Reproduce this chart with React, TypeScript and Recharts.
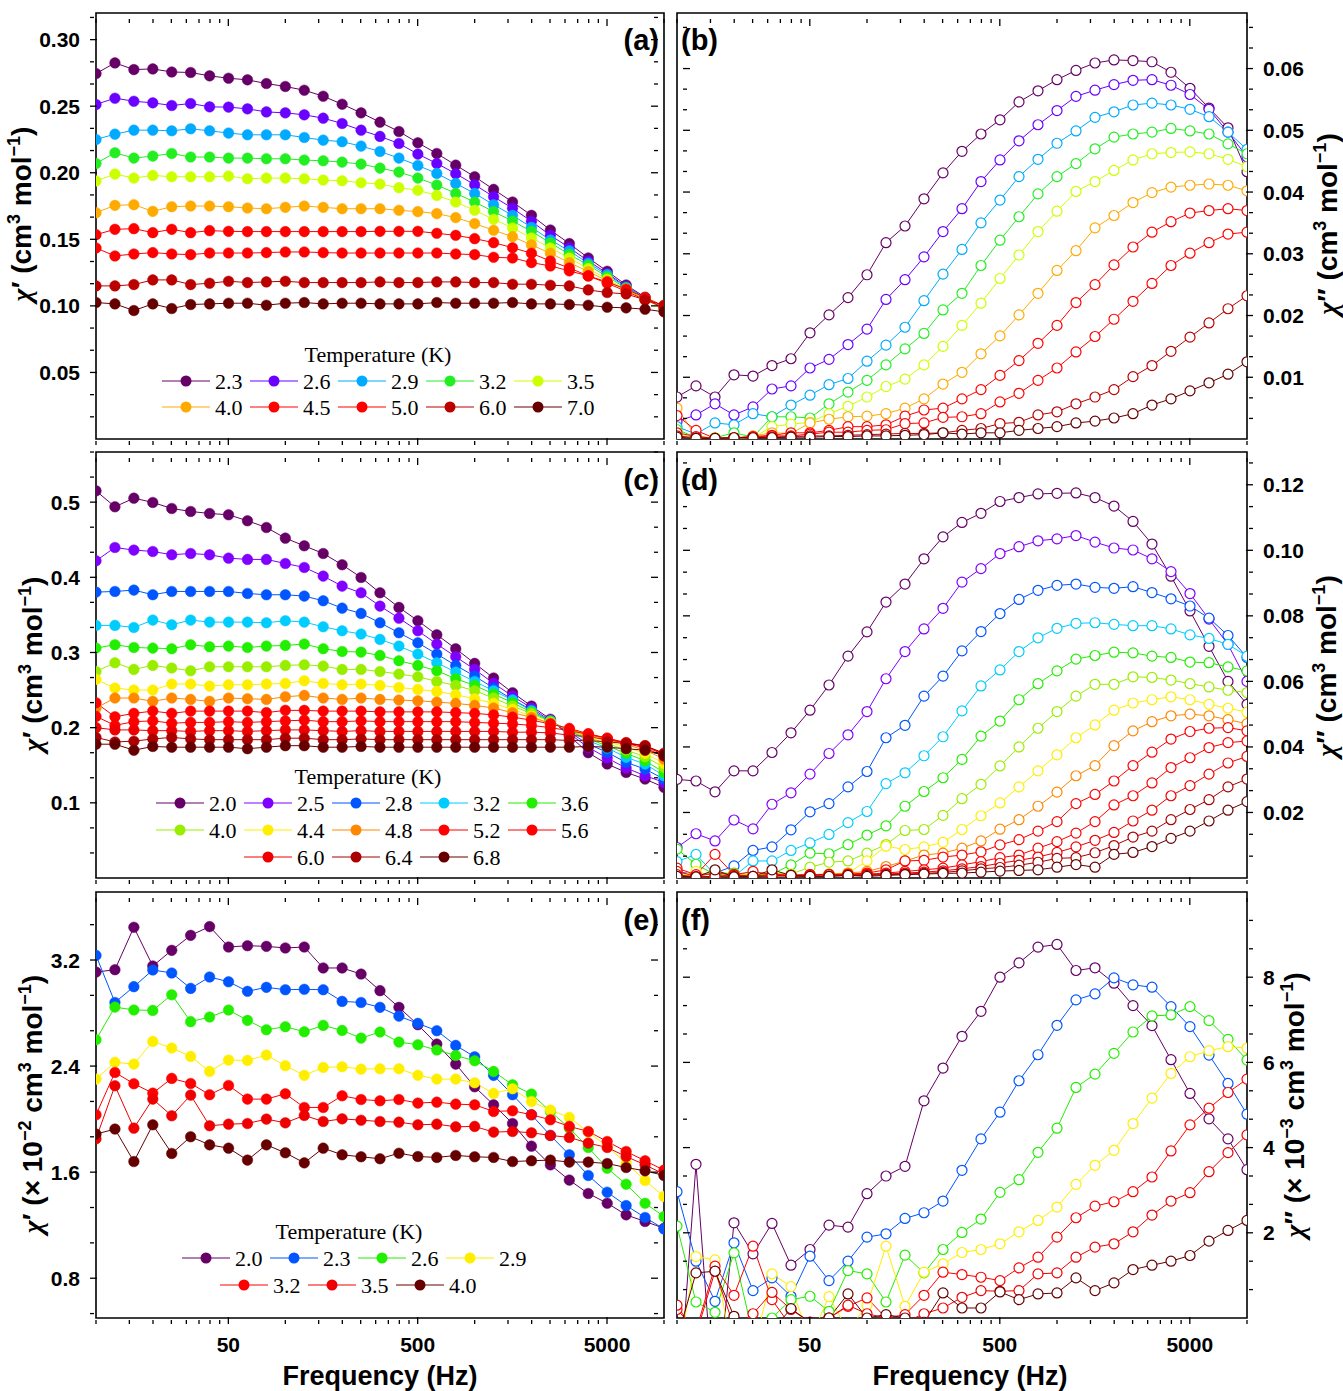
import React from "react";
import { LineChart, Line, XAxis, YAxis, ReferenceArea } from "recharts";

// frequencies (Hz), shared by all six panels
const FREQ = [
  10, 12.59, 15.85, 19.95, 25.12, 31.62, 39.81, 50.12, 63.1, 79.43, 100, 125.9, 158.5, 199.5, 251.2, 316.2,
  398.1, 501.2, 631, 794.3, 1000, 1259, 1585, 1995, 2512, 3162, 3981, 5012, 6310, 7943, 10000,
];
const X_MAJOR = [50, 500, 5000];
const X_MINOR = [10, 15, 20, 25, 30, 35, 40, 45, 100, 150, 200, 250, 300, 350, 400, 450, 1000, 1500, 2000, 2500, 3000, 3500, 4000, 4500, 10000];

// (a) chi' , cm3 mol-1
const TEMPS_A = ["2.3", "2.6", "2.9", "3.2", "3.5", "4.0", "4.5", "5.0", "6.0", "7.0"];
const COLORS_A = ["#660066", "#6a00ff", "#00aaff", "#22ee22", "#ccff00", "#ffaa00", "#ff0000", "#ff0000", "#bb0000", "#660000"];
const A_23 = [0.2745, 0.2825, 0.2775, 0.278, 0.2757, 0.2753, 0.2728, 0.271, 0.2698, 0.267, 0.2648, 0.262, 0.2575, 0.2515, 0.245, 0.238, 0.231, 0.2225, 0.2145, 0.2057, 0.197, 0.1875, 0.178, 0.168, 0.157, 0.1468, 0.136, 0.126, 0.1157, 0.1065, 0.0975];
const A_26 = [0.2513, 0.256, 0.2537, 0.2525, 0.2505, 0.252, 0.2495, 0.2493, 0.248, 0.2457, 0.245, 0.2435, 0.241, 0.237, 0.232, 0.2273, 0.222, 0.214, 0.207, 0.1993, 0.191, 0.182, 0.1733, 0.1635, 0.153, 0.1437, 0.1337, 0.1245, 0.1145, 0.1058, 0.0975];
const A_29 = [0.225, 0.229, 0.232, 0.232, 0.2315, 0.233, 0.2315, 0.2298, 0.2285, 0.2285, 0.2285, 0.2265, 0.2245, 0.2233, 0.22, 0.216, 0.211, 0.2055, 0.1995, 0.192, 0.1845, 0.176, 0.168, 0.159, 0.1495, 0.1413, 0.132, 0.1235, 0.114, 0.1058, 0.0975];
const A_32 = [0.207, 0.215, 0.211, 0.2125, 0.2145, 0.2118, 0.2118, 0.211, 0.211, 0.2105, 0.2105, 0.2095, 0.209, 0.208, 0.2065, 0.2035, 0.2005, 0.196, 0.1908, 0.1845, 0.178, 0.1708, 0.1637, 0.156, 0.1473, 0.1388, 0.1305, 0.122, 0.1133, 0.1052, 0.0975];
const A_35 = [0.1938, 0.199, 0.196, 0.198, 0.197, 0.197, 0.197, 0.1975, 0.1955, 0.196, 0.196, 0.1955, 0.1945, 0.194, 0.1925, 0.1915, 0.1888, 0.1868, 0.183, 0.178, 0.1718, 0.165, 0.1585, 0.151, 0.1435, 0.136, 0.128, 0.12, 0.1125, 0.105, 0.0975];
const A_40 = [0.17, 0.1755, 0.176, 0.171, 0.1745, 0.175, 0.175, 0.1745, 0.1735, 0.173, 0.174, 0.175, 0.174, 0.173, 0.173, 0.173, 0.1718, 0.1708, 0.1693, 0.1663, 0.1618, 0.1568, 0.152, 0.1458, 0.1395, 0.1325, 0.1258, 0.1188, 0.112, 0.105, 0.0985];
const A_45 = [0.1535, 0.1575, 0.158, 0.155, 0.1575, 0.155, 0.1565, 0.156, 0.1558, 0.1558, 0.1558, 0.1558, 0.1558, 0.1558, 0.1558, 0.156, 0.156, 0.156, 0.1545, 0.153, 0.1505, 0.1475, 0.1437, 0.1395, 0.1337, 0.1285, 0.1225, 0.117, 0.111, 0.1045, 0.0988];
const A_50 = [0.1435, 0.1375, 0.139, 0.14, 0.139, 0.1385, 0.1397, 0.1397, 0.1397, 0.14, 0.1405, 0.1405, 0.14, 0.1397, 0.1397, 0.1397, 0.1397, 0.1397, 0.1397, 0.139, 0.1385, 0.1365, 0.136, 0.1325, 0.13, 0.1263, 0.1225, 0.118, 0.1125, 0.1063, 0.1];
const A_60 = [0.115, 0.115, 0.116, 0.1195, 0.1195, 0.116, 0.117, 0.1185, 0.1175, 0.118, 0.1185, 0.1175, 0.1175, 0.1175, 0.1175, 0.118, 0.1175, 0.1175, 0.118, 0.118, 0.1175, 0.1175, 0.1163, 0.1163, 0.1155, 0.115, 0.112, 0.11, 0.109, 0.1045, 0.1005];
const A_70 = [0.1025, 0.1015, 0.0965, 0.1015, 0.098, 0.101, 0.1015, 0.102, 0.102, 0.1005, 0.102, 0.1025, 0.1015, 0.102, 0.102, 0.1015, 0.1015, 0.1015, 0.1025, 0.102, 0.102, 0.102, 0.1025, 0.1015, 0.1015, 0.101, 0.1005, 0.099, 0.0985, 0.0975, 0.0955];

// (b) chi'' , cm3 mol-1
const B_23 = [0.0068, 0.0086, 0.0068, 0.0104, 0.0102, 0.0119, 0.013, 0.0172, 0.0201, 0.0229, 0.0266, 0.0318, 0.0345, 0.0389, 0.0431, 0.0466, 0.0494, 0.0517, 0.0546, 0.0564, 0.0582, 0.0597, 0.0609, 0.0614, 0.0613, 0.0611, 0.0594, 0.0568, 0.0536, 0.0504, 0.0433];
const B_26 = [0.0028, 0.0039, 0.0057, 0.0039, 0.0052, 0.0081, 0.0086, 0.0115, 0.0129, 0.0153, 0.0178, 0.0226, 0.0258, 0.0295, 0.0336, 0.0373, 0.0417, 0.0452, 0.0483, 0.0509, 0.0532, 0.0555, 0.0565, 0.0574, 0.0581, 0.0582, 0.0573, 0.0558, 0.0534, 0.0497, 0.0457];
const B_29 = [0.002, 0.0008, 0.0026, 0.0023, 0.0041, 0.0036, 0.0055, 0.0071, 0.0088, 0.0098, 0.0126, 0.0152, 0.0181, 0.0224, 0.0267, 0.0307, 0.035, 0.0387, 0.0425, 0.0453, 0.0479, 0.0499, 0.0521, 0.053, 0.0541, 0.0544, 0.0541, 0.0534, 0.0522, 0.0497, 0.0469];
const B_32 = [0.0015, 0.0003, 0.0002, 0.001, 0.0003, 0.0036, 0.0036, 0.0034, 0.0057, 0.0076, 0.0095, 0.012, 0.0146, 0.0171, 0.0209, 0.0236, 0.0281, 0.0322, 0.036, 0.0397, 0.0425, 0.0446, 0.047, 0.0489, 0.0494, 0.0497, 0.0503, 0.0499, 0.0494, 0.0478, 0.0462];
const B_35 = [0.001, 0.0001, 0.0002, 0.0001, 0.0002, 0.002, 0.0024, 0.0027, 0.0041, 0.0053, 0.0068, 0.0085, 0.0097, 0.012, 0.015, 0.0184, 0.022, 0.026, 0.0298, 0.0336, 0.0369, 0.0401, 0.0417, 0.0435, 0.0452, 0.0462, 0.0464, 0.0465, 0.0462, 0.0453, 0.0441];
const B_40 = [0.005, 0.0005, 0.0001, 0.0001, 0.0005, 0.001, 0.0009, 0.0026, 0.0032, 0.0036, 0.0037, 0.0041, 0.005, 0.0065, 0.0089, 0.0108, 0.0138, 0.0167, 0.0201, 0.0236, 0.0273, 0.0305, 0.0342, 0.0362, 0.0383, 0.0399, 0.0408, 0.0411, 0.0413, 0.0411, 0.0402];
const B_45 = [0.0038, 0.0014, 0.0001, 0.0002, 0.0004, 0.0006, 0.001, 0.001, 0.0014, 0.002, 0.002, 0.0023, 0.0037, 0.0047, 0.005, 0.0065, 0.008, 0.0103, 0.0127, 0.0155, 0.0184, 0.0221, 0.025, 0.0282, 0.0311, 0.0335, 0.0352, 0.0366, 0.037, 0.0373, 0.037];
const B_50 = [0.001, 0.0004, 0.0001, 0.0002, 0.0003, 0.0005, 0.0005, 0.0008, 0.0011, 0.0011, 0.0014, 0.0015, 0.0025, 0.0026, 0.0035, 0.0036, 0.0041, 0.006, 0.0074, 0.0095, 0.0115, 0.0141, 0.0166, 0.0194, 0.0223, 0.0252, 0.0281, 0.0301, 0.0318, 0.0332, 0.0335];
const B_60 = [0.0005, 0.0002, 0.0001, 0.0002, 0.0002, 0.0003, 0.0004, 0.0005, 0.0005, 0.0006, 0.0007, 0.0008, 0.0009, 0.0009, 0.001, 0.0014, 0.0017, 0.0025, 0.0027, 0.0039, 0.0044, 0.0057, 0.0068, 0.008, 0.0101, 0.0119, 0.0142, 0.0165, 0.0188, 0.0211, 0.0232];
const B_70 = [0.0003, 0.0001, 0.0001, 0.0002, 0.0002, 0.0002, 0.0003, 0.0003, 0.0004, 0.0004, 0.0005, 0.0005, 0.0006, 0.0007, 0.001, 0.0008, 0.001, 0.001, 0.0014, 0.0017, 0.002, 0.0026, 0.0029, 0.0034, 0.0041, 0.0055, 0.0065, 0.0078, 0.0091, 0.0105, 0.0125];

// (c) chi' , cm3 mol-1
const TEMPS_C = ["2.0", "2.5", "2.8", "3.2", "3.6", "4.0", "4.4", "4.8", "5.2", "5.6", "6.0", "6.4", "6.8"];
const COLORS_C = ["#660066", "#8000ff", "#0055ff", "#00ccff", "#22ee00", "#99ee00", "#ffee00", "#ff8800", "#ff0000", "#ff0000", "#ee0000", "#aa0000", "#660000"];
const C_20 = [0.515, 0.4938, 0.5053, 0.4996, 0.4916, 0.4876, 0.4849, 0.4832, 0.4752, 0.4663, 0.4521, 0.4419, 0.4317, 0.4167, 0.3998, 0.3794, 0.36, 0.3422, 0.3236, 0.305, 0.2855, 0.266, 0.2465, 0.2287, 0.2112, 0.189, 0.1667, 0.1516, 0.1405, 0.1316, 0.1206];
const C_25 = [0.422, 0.4397, 0.4362, 0.4344, 0.43, 0.4317, 0.43, 0.4255, 0.4238, 0.4238, 0.4184, 0.4131, 0.4016, 0.3883, 0.3794, 0.3617, 0.3457, 0.3289, 0.3112, 0.2943, 0.2775, 0.2589, 0.242, 0.2261, 0.2092, 0.192, 0.1738, 0.1596, 0.1463, 0.1361, 0.1272];
const C_28 = [0.3803, 0.3812, 0.383, 0.3768, 0.3812, 0.3812, 0.3812, 0.3812, 0.3785, 0.3768, 0.3768, 0.375, 0.3688, 0.359, 0.352, 0.3395, 0.3262, 0.3129, 0.2979, 0.2828, 0.2686, 0.2527, 0.2376, 0.2234, 0.2083, 0.194, 0.1782, 0.1671, 0.1538, 0.1449, 0.1316];
const C_32 = [0.336, 0.336, 0.3333, 0.3431, 0.3369, 0.3431, 0.3404, 0.3404, 0.3404, 0.3395, 0.3422, 0.3404, 0.3342, 0.3289, 0.3245, 0.3174, 0.3085, 0.2979, 0.2863, 0.2739, 0.2615, 0.2491, 0.2367, 0.2225, 0.2092, 0.1959, 0.1826, 0.1729, 0.1605, 0.1516, 0.1361];
const C_36 = [0.3058, 0.3103, 0.3067, 0.3058, 0.305, 0.3103, 0.3076, 0.3085, 0.3067, 0.3085, 0.3094, 0.3112, 0.305, 0.3014, 0.3005, 0.2961, 0.289, 0.2828, 0.2757, 0.2651, 0.2562, 0.2447, 0.2332, 0.2207, 0.2083, 0.1959, 0.1848, 0.176, 0.1658, 0.156, 0.1405];
const C_40 = [0.2748, 0.2863, 0.2775, 0.2828, 0.2793, 0.2757, 0.281, 0.281, 0.281, 0.281, 0.2828, 0.2837, 0.2819, 0.2775, 0.2775, 0.2748, 0.2713, 0.2677, 0.2615, 0.2562, 0.2491, 0.2394, 0.2287, 0.219, 0.2074, 0.1968, 0.187, 0.179, 0.1702, 0.1613, 0.1472];
const C_44 = [0.2642, 0.2527, 0.25, 0.25, 0.258, 0.258, 0.2553, 0.2571, 0.2571, 0.258, 0.2589, 0.2624, 0.2589, 0.2571, 0.258, 0.2562, 0.2535, 0.2509, 0.2482, 0.2438, 0.2385, 0.2323, 0.2243, 0.2154, 0.2057, 0.1977, 0.1888, 0.1817, 0.1738, 0.1658, 0.1525];
const C_48 = [0.2261, 0.2394, 0.2394, 0.235, 0.2394, 0.2376, 0.235, 0.2394, 0.2385, 0.2376, 0.2411, 0.2429, 0.2394, 0.2376, 0.2394, 0.2376, 0.2367, 0.2358, 0.234, 0.2323, 0.2296, 0.2261, 0.2199, 0.2137, 0.2057, 0.1977, 0.1906, 0.1844, 0.1773, 0.1702, 0.1582];
const C_52 = [0.233, 0.2145, 0.219, 0.222, 0.219, 0.222, 0.222, 0.222, 0.222, 0.22, 0.223, 0.223, 0.222, 0.222, 0.222, 0.221, 0.221, 0.221, 0.221, 0.22, 0.219, 0.217, 0.214, 0.21, 0.205, 0.199, 0.192, 0.186, 0.179, 0.173, 0.162];
const C_56 = [0.215, 0.203, 0.208, 0.209, 0.206, 0.207, 0.207, 0.208, 0.207, 0.208, 0.209, 0.21, 0.208, 0.208, 0.209, 0.208, 0.208, 0.208, 0.208, 0.208, 0.207, 0.206, 0.205, 0.203, 0.2, 0.196, 0.191, 0.186, 0.18, 0.175, 0.164];
const C_60 = [0.2, 0.197, 0.197, 0.196, 0.196, 0.195, 0.196, 0.196, 0.195, 0.196, 0.197, 0.197, 0.196, 0.195, 0.196, 0.195, 0.195, 0.195, 0.195, 0.195, 0.195, 0.195, 0.194, 0.194, 0.193, 0.19, 0.188, 0.184, 0.18, 0.176, 0.165];
const C_64 = [0.187, 0.181, 0.182, 0.185, 0.187, 0.185, 0.184, 0.184, 0.184, 0.184, 0.186, 0.186, 0.184, 0.184, 0.185, 0.184, 0.184, 0.184, 0.184, 0.184, 0.184, 0.184, 0.184, 0.184, 0.184, 0.183, 0.183, 0.181, 0.179, 0.176, 0.166];
const C_68 = [0.178, 0.178, 0.17, 0.175, 0.174, 0.174, 0.174, 0.174, 0.172, 0.174, 0.176, 0.176, 0.174, 0.174, 0.175, 0.174, 0.174, 0.174, 0.174, 0.174, 0.174, 0.174, 0.174, 0.174, 0.174, 0.174, 0.175, 0.174, 0.172, 0.17, 0.163];

// (d) chi'' , cm3 mol-1
const D_20 = [0.0301, 0.0296, 0.0263, 0.0327, 0.0327, 0.0383, 0.0443, 0.0512, 0.0589, 0.0677, 0.0751, 0.0842, 0.0897, 0.0974, 0.1041, 0.1085, 0.1113, 0.1149, 0.1161, 0.1172, 0.1174, 0.1175, 0.1161, 0.1135, 0.1088, 0.1019, 0.0921, 0.0815, 0.0707, 0.06, 0.053];
const D_25 = [0.0093, 0.0135, 0.0113, 0.0177, 0.015, 0.0225, 0.026, 0.0317, 0.038, 0.0437, 0.0508, 0.0608, 0.0691, 0.076, 0.0823, 0.0903, 0.0944, 0.099, 0.1011, 0.1029, 0.1035, 0.1045, 0.1025, 0.1007, 0.1001, 0.0974, 0.0935, 0.0868, 0.079, 0.0713, 0.06];
const D_28 = [0.002, 0.001, 0.0015, 0.0037, 0.0084, 0.0095, 0.0147, 0.0202, 0.0227, 0.0278, 0.0325, 0.0428, 0.0466, 0.0555, 0.0616, 0.0693, 0.0752, 0.0807, 0.085, 0.0878, 0.0893, 0.0897, 0.0887, 0.0884, 0.0889, 0.0871, 0.0852, 0.083, 0.0793, 0.074, 0.0673];
const D_32 = [0.005, 0.0072, 0.001, 0.0005, 0.0052, 0.0052, 0.0084, 0.0107, 0.0133, 0.0169, 0.0203, 0.0288, 0.0321, 0.0373, 0.0431, 0.051, 0.0586, 0.0635, 0.0691, 0.0733, 0.0762, 0.0777, 0.0779, 0.0774, 0.077, 0.077, 0.076, 0.0742, 0.0731, 0.0713, 0.0677];
const D_36 = [0.0088, 0.0042, 0.001, 0.0015, 0.001, 0.0012, 0.004, 0.0076, 0.0074, 0.0102, 0.0131, 0.0159, 0.0219, 0.0264, 0.0306, 0.0362, 0.0433, 0.0479, 0.0544, 0.0593, 0.0632, 0.0668, 0.0679, 0.0689, 0.0687, 0.0677, 0.0673, 0.0659, 0.0657, 0.0644, 0.0632];
const D_40 = [0.001, 0.0005, 0.002, 0.0012, 0.001, 0.0015, 0.0012, 0.0033, 0.0048, 0.0052, 0.0076, 0.0102, 0.0145, 0.0148, 0.0191, 0.0242, 0.0286, 0.0342, 0.04, 0.0457, 0.0508, 0.0555, 0.0591, 0.0591, 0.0614, 0.0612, 0.0604, 0.0593, 0.0583, 0.0573, 0.0566];
const D_44 = [0.0005, 0.002, 0.0005, 0.001, 0.0005, 0.001, 0.0008, 0.001, 0.0012, 0.0015, 0.0052, 0.0097, 0.0087, 0.0095, 0.0109, 0.0148, 0.019, 0.0229, 0.0278, 0.0327, 0.0376, 0.0428, 0.0467, 0.0512, 0.0534, 0.0544, 0.0553, 0.0544, 0.053, 0.0518, 0.0506];
const D_48 = [0.001, 0.0003, 0.0005, 0.001, 0.0005, 0.0008, 0.0008, 0.001, 0.0012, 0.0015, 0.002, 0.0035, 0.0052, 0.007, 0.0076, 0.0091, 0.0113, 0.0149, 0.0178, 0.0219, 0.0262, 0.0312, 0.0343, 0.0404, 0.0449, 0.0477, 0.0495, 0.05, 0.0495, 0.0483, 0.0471];
const D_52 = [0.003, 0.001, 0.0072, 0.001, 0.002, 0.001, 0.0008, 0.001, 0.001, 0.0012, 0.0015, 0.0025, 0.0052, 0.0054, 0.0064, 0.007, 0.008, 0.0101, 0.0117, 0.0143, 0.0172, 0.0227, 0.0255, 0.0296, 0.0343, 0.0384, 0.0424, 0.0447, 0.0457, 0.0459, 0.0449];
const D_56 = [0.002, 0.0005, 0.0015, 0.001, 0.0005, 0.0012, 0.0008, 0.001, 0.001, 0.001, 0.0012, 0.0015, 0.002, 0.0025, 0.003, 0.004, 0.005, 0.0062, 0.007, 0.0091, 0.0111, 0.0137, 0.0172, 0.0223, 0.0251, 0.029, 0.0337, 0.0367, 0.0398, 0.0413, 0.0418];
const D_60 = [0.001, 0.0003, 0.0005, 0.0008, 0.0005, 0.0005, 0.0008, 0.0008, 0.001, 0.001, 0.001, 0.0012, 0.0015, 0.0018, 0.0022, 0.0028, 0.0035, 0.0045, 0.0054, 0.0064, 0.0078, 0.0095, 0.0115, 0.0139, 0.0174, 0.0207, 0.0251, 0.0282, 0.0317, 0.0351, 0.0371];
const D_64 = [0.0005, 0.0003, 0.0005, 0.0005, 0.0003, 0.0008, 0.0005, 0.0005, 0.0006, 0.0008, 0.0008, 0.001, 0.0012, 0.0014, 0.0017, 0.0022, 0.0028, 0.0032, 0.0039, 0.0048, 0.006, 0.0062, 0.0077, 0.0099, 0.0125, 0.0143, 0.0178, 0.0209, 0.0239, 0.0278, 0.0302];
const D_68 = [0.0005, 0.0003, 0.0025, 0.0003, 0.0005, 0.0025, 0.0008, 0.0005, 0.0005, 0.0008, 0.0005, 0.0008, 0.001, 0.0012, 0.0014, 0.0015, 0.0018, 0.0021, 0.0023, 0.0025, 0.0033, 0.0041, 0.0033, 0.0072, 0.0078, 0.0096, 0.0121, 0.0143, 0.0174, 0.0207, 0.0233];

// (e) chi' , x 10^-2 cm3 mol-1
const TEMPS_E = ["2.0", "2.3", "2.6", "2.9", "3.2", "3.5", "4.0"];
const COLORS_E = ["#660066", "#0055ff", "#22ee00", "#ffee00", "#ff0000", "#ee0000", "#660000"];
const E_20 = [3.109, 3.127, 3.447, 3.155, 3.273, 3.386, 3.452, 3.298, 3.308, 3.303, 3.291, 3.298, 3.14, 3.14, 3.094, 2.969, 2.843, 2.712, 2.566, 2.415, 2.244, 2.108, 1.967, 1.796, 1.655, 1.54, 1.439, 1.366, 1.278, 1.228, 1.177];
const E_23 = [3.235, 2.88, 2.999, 3.125, 3.102, 2.986, 3.072, 3.036, 2.964, 2.994, 2.976, 2.979, 2.976, 2.888, 2.88, 2.843, 2.777, 2.722, 2.667, 2.556, 2.47, 2.33, 2.184, 2.033, 1.877, 1.731, 1.575, 1.449, 1.348, 1.258, 1.172];
const E_26 = [2.599, 2.845, 2.823, 2.82, 2.938, 2.735, 2.77, 2.823, 2.745, 2.674, 2.697, 2.659, 2.707, 2.669, 2.611, 2.657, 2.581, 2.561, 2.521, 2.48, 2.44, 2.36, 2.259, 2.189, 2.058, 1.932, 1.786, 1.63, 1.509, 1.366, 1.265];
const E_29 = [2.302, 2.428, 2.415, 2.586, 2.536, 2.473, 2.36, 2.445, 2.443, 2.483, 2.403, 2.33, 2.39, 2.395, 2.377, 2.38, 2.38, 2.33, 2.302, 2.302, 2.274, 2.194, 2.229, 2.133, 2.068, 2.013, 1.902, 1.794, 1.668, 1.537, 1.416];
const E_32 = [2.033, 2.352, 2.267, 2.196, 2.307, 2.269, 2.184, 2.254, 2.151, 2.151, 2.191, 2.088, 2.088, 2.176, 2.148, 2.138, 2.148, 2.121, 2.128, 2.113, 2.108, 2.058, 2.063, 2.033, 1.995, 1.945, 1.907, 1.831, 1.756, 1.686, 1.615];
const E_35 = [1.852, 2.252, 1.932, 2.151, 2.025, 2.181, 1.95, 1.962, 1.967, 2.0, 1.972, 2.028, 1.982, 2.002, 1.992, 1.982, 1.977, 1.957, 1.962, 1.942, 1.945, 1.902, 1.907, 1.897, 1.877, 1.862, 1.819, 1.786, 1.718, 1.655, 1.585];
const E_40 = [1.887, 1.925, 1.68, 1.957, 1.741, 1.867, 1.806, 1.781, 1.691, 1.806, 1.746, 1.67, 1.781, 1.731, 1.716, 1.701, 1.743, 1.718, 1.711, 1.726, 1.716, 1.711, 1.68, 1.686, 1.691, 1.676, 1.676, 1.665, 1.635, 1.61, 1.575];

// (f) chi'' , x 10^-3 cm3 mol-1
const F_20 = [-2.4, 3.608, -2.3, 2.235, 1.506, 2.22, 1.239, 1.608, 2.18, 2.133, 2.918, 3.333, 3.561, 5.098, 5.867, 6.612, 7.2, 8.0, 8.337, 8.706, 8.769, 8.157, 8.22, 7.859, 7.333, 6.863, 6.063, 5.271, 4.675, 4.204, 3.482];
const F_23 = [2.965, 1.333, 0.392, 1.765, 0.643, 0.941, 0.51, 1.451, 0.878, 1.333, 1.898, 1.976, 2.337, 2.471, 2.745, 3.467, 4.204, 4.831, 5.569, 6.18, 6.871, 7.467, 7.608, 7.984, 7.82, 7.765, 7.31, 6.839, 6.173, 5.506, 4.784];
const F_26 = [2.157, 0.376, 0.133, 1.529, -0.4, 0.0, 0.431, 0.51, 0.157, 1.114, 1.035, 0.376, 1.475, 1.059, 1.608, 2.008, 2.322, 2.949, 3.247, 3.89, 4.455, 5.412, 5.725, 6.212, 6.714, 7.09, 7.114, 7.31, 6.98, 6.541, 6.055];
const F_29 = [-1.0, 1.443, 1.365, -1.0, -0.8, 1.035, 0.737, -0.5, 0.502, -0.3, 0.3, 1.686, 0.275, 1.075, 1.271, 1.537, 1.608, 1.741, 2.024, 2.29, 2.604, 3.137, 3.584, 3.937, 4.565, 5.161, 5.741, 6.133, 6.275, 6.369, 6.337];
const F_32 = [0.2, -0.3, 1.216, 0.533, 1.686, 0.431, -0.2, -0.1, 0.0, 0.275, 0.471, 0.0, 0.08, 0.533, 1.075, 1.02, 0.957, 0.878, 1.176, 1.427, 1.898, 2.353, 2.627, 2.729, 2.965, 3.31, 3.922, 4.533, 4.925, 5.294, 5.608];
const F_35 = [0.3, -0.4, 1.1, -0.2, 0.1, 0.6, 0.2, -0.1, 0.0, 0.3, 0.1, 0.0, -0.1, 0.1, 0.235, 0.486, 0.643, 0.627, 0.643, 1.035, 1.059, 1.427, 1.663, 1.741, 2.024, 2.416, 2.745, 2.941, 3.435, 3.882, 4.298];
const F_40 = [-0.5, 1.059, 1.098, 0.04, -0.4, -0.3, 0.22, -0.1, 0.0, 0.565, 0.0, 0.08, 0.0, -0.1, 0.588, 0.235, 0.235, 0.612, 0.431, 0.565, 0.588, 0.941, 0.643, 0.824, 1.137, 1.239, 1.333, 1.467, 1.804, 2.055, 2.29];

// y tick labels per panel
const A_TICKS = [0.05, 0.1, 0.15, 0.2, 0.25, 0.3];
const B_TICKS = [0.01, 0.02, 0.03, 0.04, 0.05, 0.06];
const C_TICKS = [0.1, 0.2, 0.3, 0.4, 0.5];
const D_TICKS = [0.02, 0.04, 0.06, 0.08, 0.1, 0.12];
const E_TICKS = [0.8, 1.6, 2.4, 3.2];
const F_TICKS = [2, 4, 6, 8];

const SANS = '"Liberation Sans", Arial, Helvetica, sans-serif';
const SERIF = '"Liberation Serif", "Times New Roman", serif';

type Series = { name: string; color: string; values: number[] };
type Rect = { x: number; y: number; w: number; h: number };

const mk = (names: string[], colors: string[], vals: number[][]): Series[] =>
  names.map((n, i) => ({ name: n, color: colors[i], values: vals[i] }));

const SER_A = mk(TEMPS_A, COLORS_A, [A_23, A_26, A_29, A_32, A_35, A_40, A_45, A_50, A_60, A_70]);
const SER_B = mk(TEMPS_A, COLORS_A, [B_23, B_26, B_29, B_32, B_35, B_40, B_45, B_50, B_60, B_70]);
const SER_C = mk(TEMPS_C, COLORS_C, [C_20, C_25, C_28, C_32, C_36, C_40, C_44, C_48, C_52, C_56, C_60, C_64, C_68]);
const SER_D = mk(TEMPS_C, COLORS_C, [D_20, D_25, D_28, D_32, D_36, D_40, D_44, D_48, D_52, D_56, D_60, D_64, D_68]);
const SER_E = mk(TEMPS_E, COLORS_E, [E_20, E_23, E_26, E_29, E_32, E_35, E_40]);
const SER_F = mk(TEMPS_E, COLORS_E, [F_20, F_23, F_26, F_29, F_32, F_35, F_40]);

const X_TICKS = [...X_MAJOR, ...X_MINOR].sort((a, b) => a - b);

function minorTicks(majors: number[], lo: number, hi: number) {
  const sub = (majors[1] - majors[0]) / 3;
  const out: number[] = [];
  for (let k = Math.ceil(lo / sub + 1e-6); k * sub < hi - 1e-9; k++) {
    if (k % 3 !== 0) out.push(k * sub);
  }
  return out;
}

const isMajor = (list: number[], v: number) => list.some((m) => Math.abs(m - v) < 1e-9);

function xTick(plotH: number, labels: boolean) {
  return (p: any) => {
    const v = p.payload.value;
    const major = isMajor(X_MAJOR, v);
    const len = major ? 7 : 4;
    return (
      <g>
        <line x1={p.x} x2={p.x} y1={p.y} y2={p.y - len} stroke="#000" strokeWidth={1.3} />
        <line x1={p.x} x2={p.x} y1={p.y - plotH} y2={p.y - plotH + len} stroke="#000" strokeWidth={1.3} />
        {labels && major ? (
          <text x={p.x} y={p.y + 28} textAnchor="middle" fontFamily={SANS} fontWeight="bold" fontSize={21} fill="#000">
            {v}
          </text>
        ) : null}
      </g>
    );
  };
}

function yTick(plotW: number, side: "left" | "right", majors: number[], dec: number) {
  const dir = side === "left" ? 1 : -1;
  return (p: any) => {
    const v = p.payload.value;
    const major = isMajor(majors, v);
    const len = major ? 7 : 4;
    const xo = p.x + dir * plotW;
    return (
      <g>
        <line x1={p.x} x2={p.x + dir * len} y1={p.y} y2={p.y} stroke="#000" strokeWidth={1.3} />
        <line x1={xo} x2={xo - dir * len} y1={p.y} y2={p.y} stroke="#000" strokeWidth={1.3} />
        {major ? (
          <text
            x={p.x - dir * 10}
            y={p.y}
            dy="0.36em"
            textAnchor={side === "left" ? "end" : "start"}
            fontFamily={SANS}
            fontWeight="bold"
            fontSize={21}
            fill="#000"
          >
            {v.toFixed(dec)}
          </text>
        ) : null}
      </g>
    );
  };
}

type PanelProps = {
  rect: Rect;
  yDomain: [number, number];
  yMajors: number[];
  dec: number;
  side: "left" | "right";
  xLabels: boolean;
  series: Series[];
  hollow: boolean;
};

function Panel({ rect, yDomain, yMajors, dec, side, xLabels, series, hollow }: PanelProps) {
  const PL = 70;
  const PR = 70;
  const PT = 12;
  const PB = 40;
  const data = FREQ.map((f, i) => {
    const row: Record<string, number> = { f };
    series.forEach((s, k) => {
      row["s" + k] = s.values[i];
    });
    return row;
  });
  const yTicks = [...yMajors, ...minorTicks(yMajors, yDomain[0], yDomain[1])].sort((a, b) => a - b);
  return (
    <div style={{ position: "absolute", left: rect.x - PL, top: rect.y - PT }}>
      <LineChart
        width={rect.w + PL + PR}
        height={rect.h + PT + PB}
        data={data}
        margin={{ top: PT, bottom: 0, left: side === "left" ? 0 : PL, right: side === "right" ? 0 : PR }}
      >
        <XAxis
          dataKey="f"
          type="number"
          scale="log"
          domain={[10, 10000]}
          ticks={X_TICKS}
          interval={0}
          allowDataOverflow
          height={PB}
          axisLine={false}
          tickLine={false}
          tickMargin={0}
          tick={xTick(rect.h, xLabels)}
        />
        <YAxis
          type="number"
          domain={yDomain}
          ticks={yTicks}
          interval={0}
          allowDataOverflow
          orientation={side}
          width={side === "left" ? PL : PR}
          axisLine={false}
          tickLine={false}
          tickMargin={0}
          tick={yTick(rect.w, side, yMajors, dec)}
        />
        {series.map((s, k) => (
          <Line
            key={s.name + k}
            dataKey={"s" + k}
            type="linear"
            stroke={s.color}
            strokeWidth={1}
            isAnimationActive={false}
            activeDot={false}
            dot={
              hollow
                ? { r: 5, fill: "#ffffff", stroke: s.color, strokeWidth: 1.2 }
                : { r: 5.3, fill: s.color, stroke: s.color, strokeWidth: 0.5 }
            }
          />
        ))}
        <ReferenceArea
          x1={10}
          x2={10000}
          y1={yDomain[0]}
          y2={yDomain[1]}
          fill="none"
          stroke="#000"
          strokeWidth={1.6}
          ifOverflow="visible"
        />
      </LineChart>
    </div>
  );
}

type LegendRow = { y: number; x0: number; from: number; to: number };

function LegendBlock({ tx, ty, rows, series }: { tx: number; ty: number; rows: LegendRow[]; series: Series[] }) {
  return (
    <g>
      <text x={tx} y={ty + 7} textAnchor="middle" fontFamily={SERIF} fontSize={22} fill="#000">
        Temperature (K)
      </text>
      {rows.map((r, ri) =>
        series.slice(r.from, r.to).map((s, k) => {
          const cx = r.x0 + k * 88;
          return (
            <g key={ri + "-" + k}>
              <line x1={cx - 24} x2={cx + 24} y1={r.y} y2={r.y} stroke={s.color} strokeWidth={1} />
              <circle cx={cx} cy={r.y} r={5.5} fill={s.color} />
              <text x={cx + 29} y={r.y + 7.5} fontFamily={SERIF} fontSize={22} fill="#000">
                {s.name}
              </text>
            </g>
          );
        })
      )}
    </g>
  );
}

// rotated axis title; (bx, cy) = baseline x and vertical centre
function YTitle({ bx, cy, prime, exp }: { bx: number; cy: number; prime: string; exp?: string }) {
  const sup = (t: string) => (
    <tspan dy={-11} fontSize={18}>
      {t}
    </tspan>
  );
  return (
    <text
      transform={`translate(${bx},${cy}) rotate(-90)`}
      textAnchor="middle"
      fontFamily={SANS}
      fontWeight="bold"
      fontSize={28}
      fill="#000"
    >
      <tspan fontFamily={SERIF} fontStyle="italic">
        χ
      </tspan>
      <tspan>{prime + " ("}</tspan>
      {exp ? (
        <>
          <tspan>× 10</tspan>
          {sup(exp)}
          <tspan dy={11}> cm</tspan>
        </>
      ) : (
        <tspan>cm</tspan>
      )}
      {sup("3")}
      <tspan dy={11}> mol</tspan>
      {sup("−1")}
      <tspan dy={11}>)</tspan>
    </text>
  );
}

const RA: Rect = { x: 96, y: 13, w: 568, h: 426 };
const RB: Rect = { x: 677, y: 13, w: 570, h: 426 };
const RC: Rect = { x: 96, y: 452, w: 568, h: 426 };
const RD: Rect = { x: 677, y: 452, w: 570, h: 426 };
const RE: Rect = { x: 96, y: 892, w: 568, h: 426 };
const RF: Rect = { x: 677, y: 892, w: 570, h: 426 };

export default function App() {
  const panelLabel = (x: number, y: number, t: string, anchor: "start" | "end") => (
    <text x={x} y={y} textAnchor={anchor} fontFamily={SANS} fontWeight="bold" fontSize={29} fill="#000">
      {t}
    </text>
  );
  return (
    <div style={{ position: "absolute", left: 0, top: 0, width: 1343, height: 1391, background: "#fff" }}>
      <Panel rect={RA} yDomain={[0, 0.32]} yMajors={A_TICKS} dec={2} side="left" xLabels={false} series={SER_A} hollow={false} />
      <Panel rect={RB} yDomain={[0, 0.069]} yMajors={B_TICKS} dec={2} side="right" xLabels={false} series={SER_B} hollow />
      <Panel rect={RC} yDomain={[0, 0.5667]} yMajors={C_TICKS} dec={1} side="left" xLabels={false} series={SER_C} hollow={false} />
      <Panel rect={RD} yDomain={[0, 0.13]} yMajors={D_TICKS} dec={2} side="right" xLabels={false} series={SER_D} hollow />
      <Panel rect={RE} yDomain={[0.5, 3.713]} yMajors={E_TICKS} dec={1} side="left" xLabels series={SER_E} hollow={false} />
      <Panel rect={RF} yDomain={[0, 10]} yMajors={F_TICKS} dec={0} side="right" xLabels series={SER_F} hollow />
      <svg
        width={1343}
        height={1391}
        style={{ position: "absolute", left: 0, top: 0, pointerEvents: "none" }}
      >
        {panelLabel(659, 50, "(a)", "end")}
        {panelLabel(681, 50, "(b)", "start")}
        {panelLabel(659, 490, "(c)", "end")}
        {panelLabel(681, 490, "(d)", "start")}
        {panelLabel(659, 930, "(e)", "end")}
        {panelLabel(681, 930, "(f)", "start")}

        <YTitle bx={31} cy={214} prime="′" />
        <YTitle bx={1337} cy={224} prime="″" />
        <YTitle bx={42} cy={664} prime="′" />
        <YTitle bx={1336} cy={666} prime="″" />
        <YTitle bx={42} cy={1104} prime="′" exp="−2" />
        <YTitle bx={1304} cy={1105} prime="″" exp="−3" />

        <text x={380} y={1385} textAnchor="middle" fontFamily={SANS} fontWeight="bold" fontSize={27} fill="#000">
          Frequency (Hz)
        </text>
        <text x={970} y={1385} textAnchor="middle" fontFamily={SANS} fontWeight="bold" fontSize={27} fill="#000">
          Frequency (Hz)
        </text>

        <LegendBlock
          tx={378}
          ty={355}
          series={SER_A}
          rows={[
            { y: 381, x0: 186, from: 0, to: 5 },
            { y: 407, x0: 186, from: 5, to: 10 },
          ]}
        />
        <LegendBlock
          tx={368}
          ty={777}
          series={SER_C}
          rows={[
            { y: 803, x0: 180, from: 0, to: 5 },
            { y: 830, x0: 180, from: 5, to: 10 },
            { y: 857, x0: 268, from: 10, to: 13 },
          ]}
        />
        <LegendBlock
          tx={349}
          ty={1232}
          series={SER_E}
          rows={[
            { y: 1258, x0: 206, from: 0, to: 4 },
            { y: 1285, x0: 244, from: 4, to: 7 },
          ]}
        />
      </svg>
    </div>
  );
}
